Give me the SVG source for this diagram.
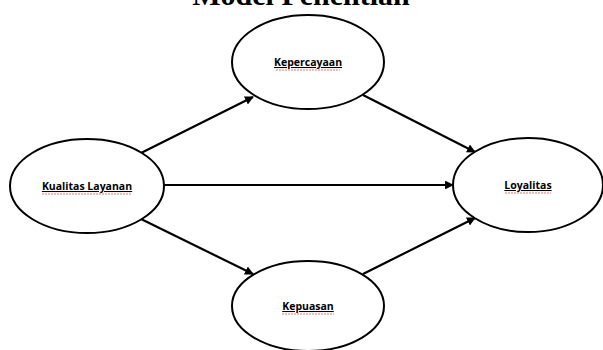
<svg xmlns="http://www.w3.org/2000/svg" width="603" height="350" viewBox="0 0 603 350">
<style>
.node ellipse{fill:#fff;stroke:#000;stroke-width:2}
.node text{font-family:"Open Sans","Liberation Sans",sans-serif;font-weight:bold;font-size:10.5px;fill:#000;text-anchor:middle;text-decoration:underline}
.conn line{stroke:#000;stroke-width:2.2;marker-end:url(#ah)}
.sq{fill:none;stroke:#e05050;stroke-width:0.8;stroke-dasharray:2 1}
.title{font-family:"Liberation Serif",serif;font-weight:bold;font-size:30px;text-anchor:middle}
</style>
<defs>
<marker id="ah" viewBox="0 0 10 10" refX="9" refY="5" markerWidth="4" markerHeight="4" orient="auto" markerUnits="strokeWidth">
<path d="M0,0 L10,5 L0,10 z" fill="#000"/>
</marker>
</defs>
<rect width="603" height="350" fill="#fff"/>
<text class="title" x="301" y="5">Model Penelitian</text>
<g class="conn">
<line x1="141" y1="153" x2="253" y2="97"/>
<line x1="363" y1="95" x2="475" y2="152"/>
<line x1="163" y1="185" x2="453" y2="185"/>
<line x1="141" y1="219" x2="253" y2="274"/>
<line x1="363" y1="274" x2="475" y2="218"/>
</g>
<g id="kepercayaan" class="node">
<ellipse cx="308" cy="62" rx="76" ry="47"/>
<text x="308" y="66">Kepercayaan</text>
<path class="sq" d="M276,70 H340"/>
</g>
<g id="kualitas" class="node">
<ellipse cx="87" cy="186" rx="77" ry="47"/>
<text x="87" y="190">Kualitas Layanan</text>
<path class="sq" d="M42,194 H132"/>
</g>
<g id="loyalitas" class="node">
<ellipse cx="528" cy="185" rx="75" ry="47"/>
<text x="528" y="189">Loyalitas</text>
<path class="sq" d="M505,193 H551"/>
</g>
<g id="kepuasan" class="node">
<ellipse cx="308" cy="306" rx="76" ry="45"/>
<text x="308" y="310">Kepuasan</text>
<path class="sq" d="M282,314 H334"/>
</g>
</svg>
